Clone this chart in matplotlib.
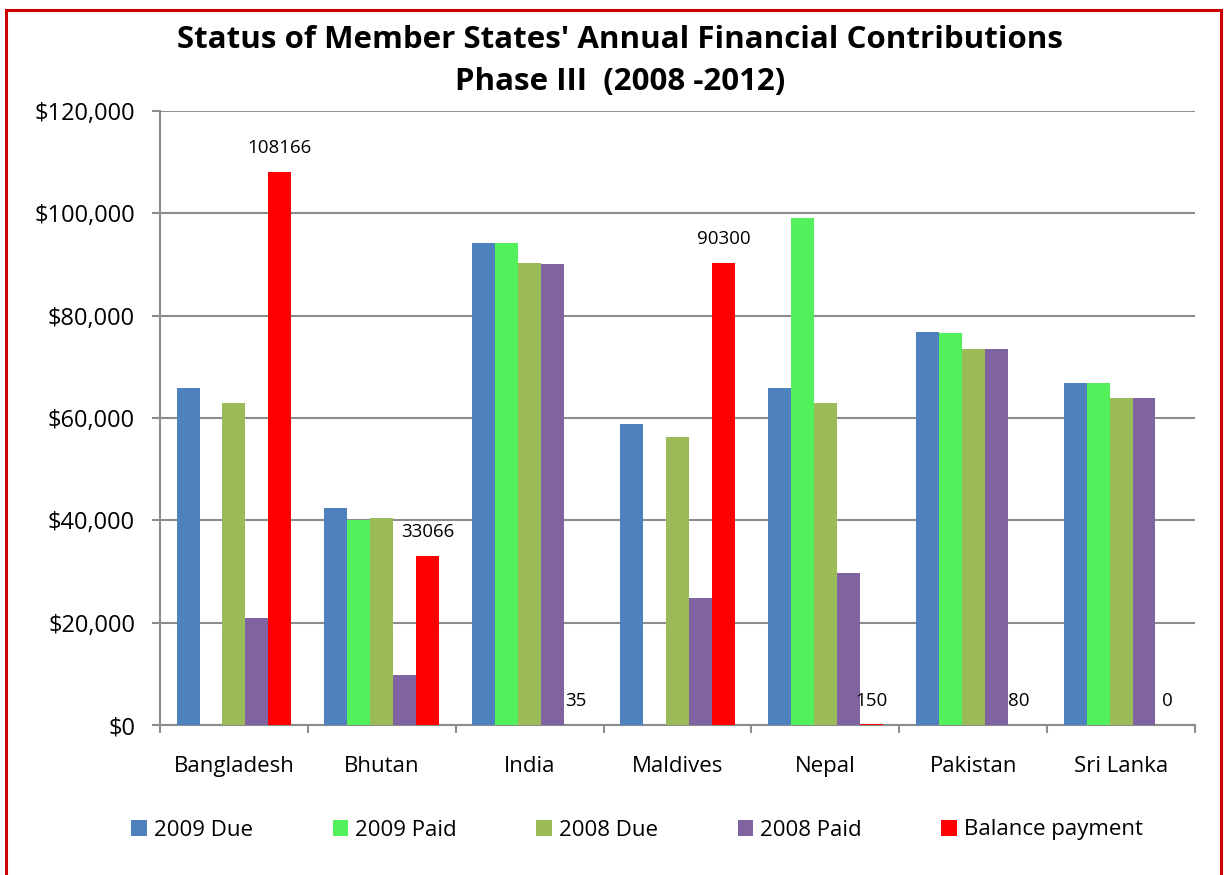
import matplotlib.pyplot as plt
import matplotlib.patches as patches
from matplotlib.ticker import FuncFormatter
import numpy as np

plt.rcParams['font.family'] = ['Open Sans', 'DejaVu Sans']

countries = ['Bangladesh', 'Bhutan', 'India', 'Maldives', 'Nepal', 'Pakistan', 'Sri Lanka']
due_2009 = [65900, 42400, 94200, 58800, 65900, 76800, 66900]
paid_2009 = [0, 40000, 94200, 0, 99000, 76700, 66900]
due_2008 = [63000, 40500, 90200, 56200, 63000, 73400, 64000]
paid_2008 = [20900, 9800, 90100, 24900, 29800, 73400, 64000]
balance = [108166, 33066, 35, 90300, 150, 80, 0]

series_names = ['2009 Due', '2009 Paid', '2008 Due', '2008 Paid', 'Balance payment']
colors = ['#4F81BD', '#52F05A', '#9BBB59', '#8064A2', '#FF0000']

fig = plt.figure(figsize=(12.25, 8.75), dpi=100)
ax = fig.add_axes([160 / 1225, 1 - 725 / 875, 1035 / 1225, 614 / 875])

x = np.arange(len(countries))
w = 0.155
all_series = [due_2009, paid_2009, due_2008, paid_2008, balance]
for i, (vals, name, c) in enumerate(zip(all_series, series_names, colors)):
    pos = x + (i - 2) * w
    bars = ax.bar(pos, vals, width=w, color=c, label=name, zorder=3)
    if name == 'Balance payment':
        for b, v in zip(bars, vals):
            ax.annotate(str(v), (b.get_x() + b.get_width() / 2, v),
                        xytext=(0, 17), textcoords='offset points',
                        ha='center', va='center', fontsize=13.5)

ax.set_xlim(-0.5, len(countries) - 0.5)
ax.set_ylim(0, 120000)
ax.set_yticks(np.arange(0, 120001, 20000))
ax.yaxis.set_major_formatter(FuncFormatter(lambda v, p: '${:,.0f}'.format(v)))
ax.grid(axis='y', color='#8C8C8C', linewidth=1.5, zorder=0)

ax.set_xticks(x)
ax.set_xticklabels(countries)
ax.set_xticks(np.arange(-0.5, len(countries)), minor=True)
ax.tick_params(axis='x', which='major', length=0, pad=22, labelsize=16)
ax.tick_params(axis='x', which='minor', length=6, width=1.5, color='#8C8C8C')
ax.tick_params(axis='y', length=6, width=1.5, color='#8C8C8C', pad=12, labelsize=17)

for s in ['top', 'right']:
    ax.spines[s].set_visible(False)
for s in ['left', 'bottom']:
    ax.spines[s].set_color('#8C8C8C')
    ax.spines[s].set_linewidth(1.5)

fig.text(0.506, 1 - 40 / 875, "Status of Member States' Annual Financial Contributions",
         ha='center', va='center', fontsize=22.5, fontweight='bold')
fig.text(0.506, 1 - 82 / 875, "Phase III  (2008 -2012)",
         ha='center', va='center', fontsize=22.5, fontweight='bold')

fig.legend(loc='center', bbox_to_anchor=(637 / 1225, 1 - 830 / 875), ncol=5,
           frameon=False, fontsize=16, handlelength=0.7, handleheight=0.7,
           handletextpad=0.3, columnspacing=3.6)

# red frame around the chart
fig.patches.append(patches.Rectangle((6 / 1225, -0.05), 1215 / 1225, 1 - 10 / 875 + 0.05,
                                     transform=fig.transFigure, fill=False,
                                     edgecolor='#CC0000', linewidth=2.2))

fig.savefig('out.png', dpi=100)
